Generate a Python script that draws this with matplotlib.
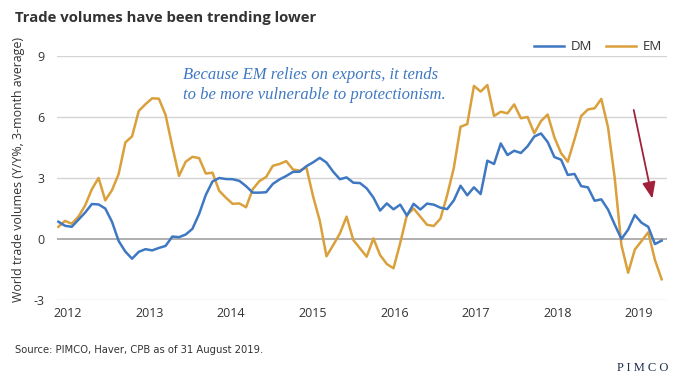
import matplotlib
matplotlib.use("Agg")
import matplotlib.pyplot as plt
import numpy as np

# ---- data (monthly samples, Jan 2012 onward) ----
dm = [0.85, 0.65, 0.6, 0.95, 1.3, 1.72, 1.7, 1.5, 0.85, -0.1,
      -0.62, -0.97, -0.63, -0.5, -0.56, -0.44, -0.34, 0.12, 0.09, 0.22,
      0.5, 1.23, 2.17, 2.83, 3.0, 2.95, 2.94, 2.86, 2.6, 2.28,
      2.28, 2.3, 2.71, 2.93, 3.1, 3.3, 3.31, 3.58, 3.77, 3.99,
      3.76, 3.31, 2.94, 3.03, 2.77, 2.75, 2.49, 2.04, 1.4, 1.75,
      1.46, 1.69, 1.15, 1.73, 1.45, 1.74, 1.69, 1.54, 1.47, 1.9,
      2.62, 2.15, 2.54, 2.21, 3.85, 3.69, 4.7, 4.13, 4.34, 4.23,
      4.56, 5.04, 5.19, 4.77, 4.03, 3.9, 3.15, 3.2, 2.6, 2.54,
      1.88, 1.95, 1.45, 0.71, 0.0, 0.46, 1.18, 0.8, 0.6, -0.25,
      -0.08]
em = [0.6, 0.89, 0.75, 1.1, 1.65, 2.45, 3.0, 1.9, 2.4, 3.2,
      4.75, 5.05, 6.3, 6.63, 6.92, 6.9, 6.1, 4.55, 3.1, 3.8,
      4.04, 3.98, 3.22, 3.26, 2.37, 2.03, 1.73, 1.75, 1.56, 2.45,
      2.85, 3.05, 3.6, 3.69, 3.83, 3.42, 3.36, 3.52, 2.1, 0.9,
      -0.85, -0.3, 0.27, 1.1, -0.05, -0.46, -0.87, 0.03, -0.79, -1.23,
      -1.44, -0.2, 1.18, 1.5, 1.1, 0.7, 0.64, 1.0, 2.15, 3.5,
      5.52, 5.65, 7.53, 7.25, 7.57, 6.05, 6.26, 6.18, 6.62, 5.94,
      6.0, 5.2, 5.8, 6.12, 5.0, 4.22, 3.8, 4.9, 6.05, 6.37,
      6.43, 6.89, 5.5, 3.0, -0.3, -1.66, -0.52, -0.1, 0.33, -1.03,
      -1.98]
years = ["2012", "2013", "2014", "2015", "2016", "2017", "2018", "2019"]
yticks = [-3, 0, 3, 6, 9]

DM_C = "#3f78c2"
EM_C = "#d9a03c"
TXT = "#333333"

fig = plt.figure(figsize=(6.8, 3.83), dpi=100)
ax = fig.add_axes([57/680, 1-300/383, (667-57)/680, (300-56)/383])

x = np.arange(len(dm))
ax.set_xlim(-0.2, 90.8)
ax.set_ylim(-3, 9)

for v in yticks:
    if v == 0:
        ax.axhline(v, color="#9a9a9a", lw=1.1, zorder=1)
    else:
        ax.axhline(v, color="#d4d4d4", lw=1.0, zorder=1)

ax.plot(x, dm, color=DM_C, lw=1.8, label="DM", zorder=3, solid_joinstyle="round")
ax.plot(x, em, color=EM_C, lw=1.8, label="EM", zorder=2, solid_joinstyle="round")

for s in ax.spines.values():
    s.set_visible(False)
ax.set_yticks(yticks)
ax.set_yticklabels([str(v) for v in yticks], fontsize=9, color=TXT, family="Open Sans")
xt = [1.45 + 12.17 * i for i in range(len(years))]
ax.set_xticks(xt)
ax.set_xticklabels(years, fontsize=9, color=TXT, family="Open Sans")
ax.tick_params(axis="both", length=0, pad=5)
ax.tick_params(axis="y", pad=9)

ax.set_ylabel("World trade volumes (Y/Y%, 3-month average)", fontsize=8.9,
              color=TXT, family="Open Sans", labelpad=6)
ax.yaxis.set_label_coords(-0.052, 0.535)

leg = ax.legend(loc="lower right", bbox_to_anchor=(1.0, 0.99), ncol=2, frameon=False,
                handlelength=2.3, columnspacing=1.0, handletextpad=0.5,
                borderaxespad=0.0, prop={"family": "Open Sans", "size": 9.5})
for t in leg.get_texts():
    t.set_color(TXT)

ax.text(0.207, 0.955, "Because EM relies on exports, it tends\nto be more vulnerable to protectionism.",
        transform=ax.transAxes, fontsize=12, color=DM_C, style="italic",
        family="Liberation Serif", va="top", ha="left", linespacing=1.35)

ax.annotate("", xy=(88.7, 1.85), xytext=(85.75, 6.48),
            arrowprops=dict(arrowstyle="-|>,head_length=1.0,head_width=0.4",
                            color="#a3203a", lw=1.3))

fig.text(15/680, 1-18/383, "Trade volumes have been trending lower", fontsize=10.7,
         fontweight="bold", color=TXT, family="Open Sans", va="center", ha="left")
fig.text(15/680, 1-350/383, "Source: PIMCO, Haver, CPB as of 31 August 2019.", fontsize=8.0,
         color=TXT, family="DejaVu Sans", fontstretch="condensed", va="center", ha="left")
fig.text(668/680, 1-368/383, "P I M C O", fontsize=9, color="#1f2d4d",
         family="Liberation Serif", va="center", ha="right")

fig.savefig("out.png", dpi=100)
